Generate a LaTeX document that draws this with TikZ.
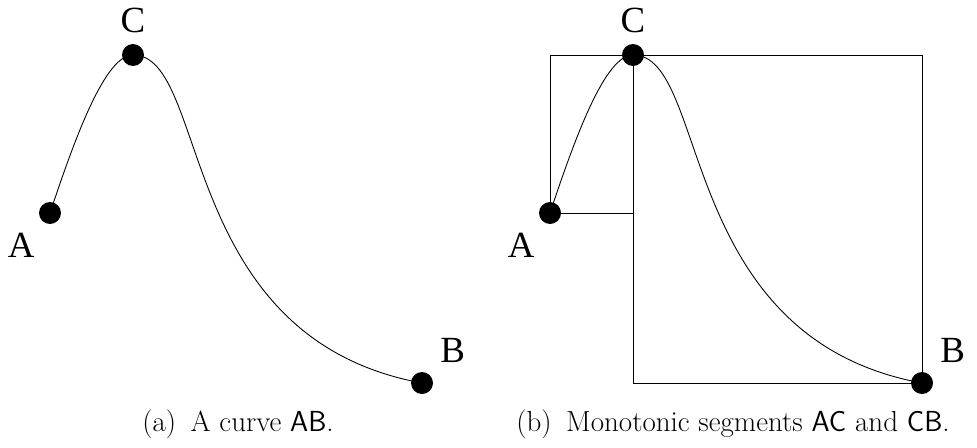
\documentclass[tikz,border=0pt]{standalone}
\usepackage{fontspec}
\newfontfamily\labelfont{Liberation Serif}
\usetikzlibrary{positioning}

\begin{document}
\begin{tikzpicture}

% --- Styles ---
\tikzset{
    dot/.style={circle, fill=black, inner sep=0pt, minimum size=0.44cm},
    curveline/.style={draw=black, line width=0.5pt},
    boxline/.style={draw=black, line width=0.5pt},
    ptlabel/.style={inner sep=0pt, font=\labelfont\fontsize{21}{25}\selectfont},
    caption/.style={inner sep=0pt, font=\fontsize{16.5}{20}\selectfont}
}

    \useasboundingbox (0,0) rectangle (19.54,8.94);

    % (a) de kromme AB
    \node[dot] (a1) at (1.0, 4.68) {};
    \node[dot] (c1) at (2.66, 7.84) {};
    \node[dot] (b1) at (8.44, 1.28) {};
    \node[ptlabel, below left=0.24cm and 0.14cm of a1] (la1) {A};
    \node[ptlabel, above=0.2cm of c1] (lc1) {C};
    \node[ptlabel, above right=0.24cm and 0.2cm of b1] (lb1) {B};

    \draw[curveline] (a1.center) .. controls (1.5, 6.18) and (2.1, 7.84) .. (c1.center);
    \draw[curveline] (c1.center) .. controls (4.2, 7.84) and (3.5, 2.18) .. (b1.center);

    \node[caption] (capa) at (4.76, 0.46) {(a)\enspace A curve \textsf{AB}.};

    % (b) monotone stukken AC en CB
    \node[dot] (a2) at (11.0, 4.68) {};
    \node[dot] (c2) at (12.66, 7.84) {};
    \node[dot] (b2) at (18.44, 1.28) {};
    \node[ptlabel, below left=0.24cm and 0.14cm of a2] (la2) {A};
    \node[ptlabel, above=0.2cm of c2] (lc2) {C};
    \node[ptlabel, above right=0.24cm and 0.2cm of b2] (lb2) {B};

    \draw[boxline] (a2.center) |- (c2.center) |- (a2.center);
    \draw[boxline] (c2.center) -| (b2.center) -| (c2.center);

    \draw[curveline] (a2.center) .. controls (11.5, 6.18) and (12.1, 7.84) .. (c2.center);
    \draw[curveline] (c2.center) .. controls (14.2, 7.84) and (13.5, 2.18) .. (b2.center);

    \node[caption] (capb) at (14.66, 0.46) {(b)\enspace Monotonic segments \textsf{AC} and \textsf{CB}.};

\end{tikzpicture}
\end{document}
